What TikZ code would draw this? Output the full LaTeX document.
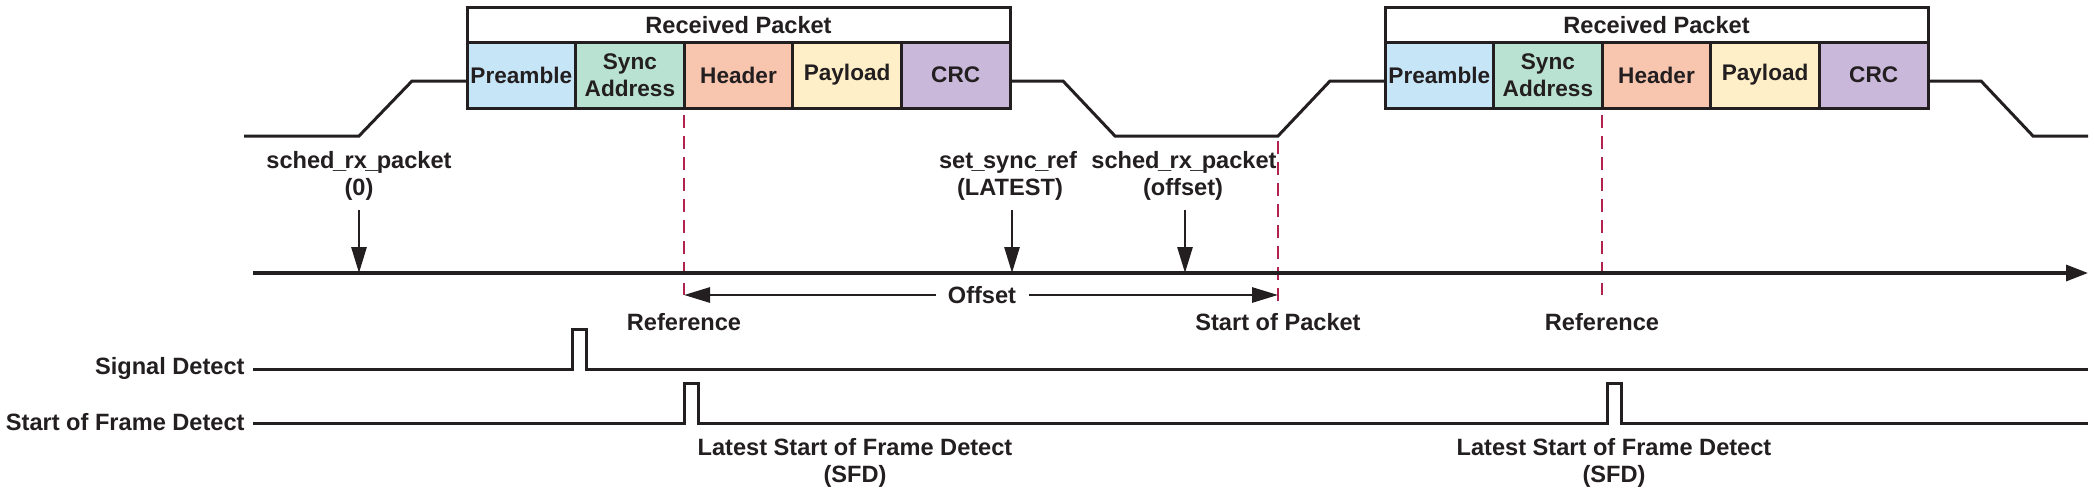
\documentclass[tikz,border=0pt]{standalone}
\usepackage{fontspec}
\setmainfont{Liberation Sans}
\usetikzlibrary{arrows.meta}
\definecolor{ink}{RGB}{35,31,32}
\definecolor{prec}{RGB}{198,230,248}
\definecolor{syncc}{RGB}{185,226,210}
\definecolor{hdrc}{RGB}{248,197,174}
\definecolor{payc}{RGB}{254,239,200}
\definecolor{crcc}{RGB}{202,184,219}
\definecolor{redc}{RGB}{178,34,78}
\newcommand{\usc}{\kern-0.8pt\_\kern-0.8pt}
\begin{document}
\begin{tikzpicture}[x=0.5pt,y=-0.5pt,
  lbl/.style={font=\bfseries\fontsize{11.8}{13.5}\selectfont, text=ink, inner sep=0pt},
  field/.style={lbl, font=\bfseries\fontsize{11.3}{13.5}\selectfont, draw=ink, line width=1.5pt, minimum width=54.3pt, minimum height=33pt, align=center},
  titlebox/.style={lbl, draw=ink, fill=white, line width=1.5pt, minimum width=271.5pt, minimum height=17.75pt},
  wave/.style={draw=ink, line width=1.5pt, line join=miter},
  refline/.style={draw=redc, line width=1.4pt, dash pattern=on 6.5pt off 4pt},
  darr/.style={draw=ink, line width=1.4pt, -{Triangle[length=13pt,width=7.5pt]}},
  axisline/.style={draw=ink, line width=1.6pt, -{Triangle[length=11pt,width=8pt]}}
]
\useasboundingbox (0,0) rectangle (2094,493);

% ---------- packet 1 ----------
\node[titlebox] (rp1) at (738.5,24.75) {Received Packet};
\node[field, fill=prec]  (pre1) at (521.3,75) {Preamble};
\node[field, fill=syncc] (syn1) at (629.9,75) {Sync\\Address};
\node[field, fill=hdrc]  (hdr1) at (738.5,75) {Header};
\node[field, fill=payc]  (pay1) at (847.1,75) {Payload};
\node[field, fill=crcc]  (crc1) at (955.7,75) {CRC};

% ---------- packet 2 ----------
\node[titlebox] (rp2) at (1656.5,24.75) {Received Packet};
\node[field, fill=prec]  (pre2) at (1439.3,75) {Preamble};
\node[field, fill=syncc] (syn2) at (1547.9,75) {Sync\\Address};
\node[field, fill=hdrc]  (hdr2) at (1656.5,75) {Header};
\node[field, fill=payc]  (pay2) at (1765.1,75) {Payload};
\node[field, fill=crcc]  (crc2) at (1873.7,75) {CRC};

% ---------- waveform ----------
\draw[wave] (244,136) -- (359,136) -- (412,81) -- (467,81);
\draw[wave] (1010,81) -- (1063,81) -- (1115,136) -- (1278,136) -- (1330,81) -- (1385,81);
\draw[wave] (1928,81) -- (1981,81) -- (2033,136) -- (2088,136);

% ---------- reference lines ----------
\coordinate (r1t) at (684,115);  \coordinate (r1b) at (684,295);
\coordinate (spt) at (1278,141); \coordinate (spb) at (1278,303);
\coordinate (r2t) at (1602,115); \coordinate (r2b) at (1602,295);
\draw[refline] (r1t) -- (r1b);
\draw[refline] (spt) -- (spb);
\draw[refline] (r2t) -- (r2b);

% ---------- time axis ----------
\coordinate (axs) at (253,273);
\coordinate (axe) at (2088,273);
\draw[axisline] (axs) -- (axe);

% ---------- commands ----------
\node[lbl, anchor=base] (c1a) at (359,168) {sched\usc rx\usc packet};
\node[lbl, anchor=base] (c1b) at (359,195) {(0)};
\node[lbl, anchor=base] (c2a) at (1008,168) {set\usc sync\usc ref};
\node[lbl, anchor=base] (c2b) at (1010,195) {(LATEST)};
\node[lbl, anchor=base] (c3a) at (1184,168) {sched\usc rx\usc packet};
\node[lbl, anchor=base] (c3b) at (1183,195) {(offset)};
\coordinate (t1) at (359,273);
\coordinate (t2) at (1012,273);
\coordinate (t3) at (1185,273);
\draw[darr, shorten <=5pt] (c1b.south -| t1) -- (t1);
\draw[darr, shorten <=5pt] (c2b.south -| t2) -- (t2);
\draw[darr, shorten <=5pt] (c3b.south -| t3) -- (t3);

% ---------- offset ----------
\node[lbl, inner xsep=6pt] (off) at (982,295) {Offset};
\draw[darr] (off.west) -- (r1b);
\draw[darr] (off.east) -- (spb |- off.east);

% ---------- labels below axis ----------
\node[lbl, anchor=base] (ref1) at (684,330) {Reference};
\node[lbl, anchor=base] (sop) at (1278,330) {Start of Packet};
\node[lbl, anchor=base] (ref2) at (1602,330) {Reference};

% ---------- detect signals ----------
\node[lbl, anchor=base east] (sdl) at (245,374) {Signal Detect};
\node[lbl, anchor=base east] (sfl) at (245,430) {Start of Frame Detect};
\coordinate (sd0) at (253,369);
\coordinate (sd1) at (2088,369);
\coordinate (sf0) at (253,423);
\coordinate (sf1) at (2088,423);
\draw[wave] (sd0) -- (572,369) -- (572,329) -- (586,329) -- (586,369) -- (sd1);
\draw[wave] (sf0) -- (684,423) -- (684,383) -- (698,383) -- (698,423)
  -- (1607,423) -- (1607,383) -- (1621,383) -- (1621,423) -- (sf1);

\node[lbl, anchor=base] (lsa1) at (855,455) {Latest Start of Frame Detect};
\node[lbl, anchor=base] (lsb1) at (855,482) {(SFD)};
\node[lbl, anchor=base] (lsa2) at (1614,455) {Latest Start of Frame Detect};
\node[lbl, anchor=base] (lsb2) at (1614,482) {(SFD)};
\end{tikzpicture}
\end{document}
